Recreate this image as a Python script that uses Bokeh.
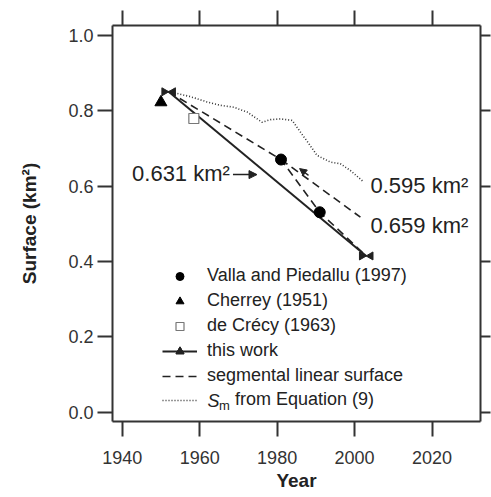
import math
from bokeh.plotting import figure
from bokeh.models import (ColumnDataSource, LinearAxis, FixedTicker, NumeralTickFormatter,
                          Legend, LegendItem, Label, Arrow, NormalHead, Range1d,
                          CustomLabelingPolicy)
from bokeh.transform import dodge
from bokeh.embed import file_html
from bokeh.resources import INLINE

# ---------------- data ----------------
valla_year = [1981, 1991]
valla_surf = [0.671, 0.531]
cherrey_year = [1950]
cherrey_surf = [0.823]
crecy_year = [1958.5]
crecy_surf = [0.780]
work_year = [1952, 2003]
work_surf = [0.851, 0.415]
seg_year = [1952, 1981, 1991, 2003]
seg_surf = [0.851, 0.671, 0.531, 0.415]
branch_year = [1981, 2001.5]
branch_surf = [0.671, 0.518]
sm_year = [1952, 1957.6, 1961.9, 1965.4, 1968.8, 1972.3, 1976.1, 1978.3, 1980.9,
           1983.9, 1986.0, 1988.2, 1990.3, 1993.8, 1996.3, 1998.9, 2002.4]
sm_surf = [0.852, 0.838, 0.824, 0.815, 0.810, 0.797, 0.770, 0.777, 0.779,
           0.775, 0.744, 0.713, 0.682, 0.664, 0.660, 0.642, 0.611]
x_ticks = [1940, 1960, 1980, 2000, 2020]
y_ticks = [0.0, 0.2, 0.4, 0.6, 0.8, 1.0]

FONT = "Liberation Sans"
INK = "#222222"
AX = "#333333"

p = figure(width=491, height=497, output_backend="svg", toolbar_location=None,
           x_range=Range1d(1937.5, 2032.5), y_range=Range1d(-0.0247, 1.027),
           min_border_left=112, min_border_right=11, min_border_top=25, min_border_bottom=76,
           background_fill_color="white", border_fill_color="white")
p.grid.visible = False
p.outline_line_color = None

NO_LABELS = CustomLabelingPolicy(code="""
try { const n = indices.size; for (let i = 0; i < n; i++) indices.unset(i) } catch (e) {}
return indices
""")

def style_axis(ax, tick_out, labels=True):
    ax.axis_line_color = AX
    ax.axis_line_width = 2
    ax.major_tick_line_color = AX
    ax.major_tick_line_width = 2
    ax.major_tick_in = 0
    ax.major_tick_out = tick_out
    ax.minor_tick_line_color = None
    ax.major_label_text_font = FONT
    ax.major_label_text_color = AX
    if labels:
        ax.major_label_text_font_size = "18px"
    else:
        ax.major_label_text_font_size = "0px"
        ax.major_label_standoff = 0
        ax.major_label_policy = NO_LABELS

xaxis = p.xaxis[0]
yaxis = p.yaxis[0]
xaxis.ticker = FixedTicker(ticks=x_ticks)
yaxis.ticker = FixedTicker(ticks=y_ticks)
yaxis.formatter = NumeralTickFormatter(format="0.0")
style_axis(xaxis, 15)
style_axis(yaxis, 15)
xaxis.major_label_standoff = 14
yaxis.major_label_standoff = 4
xaxis.axis_label = "Year"
yaxis.axis_label = "Surface (km²)"
for ax in (xaxis, yaxis):
    ax.axis_label_text_font = FONT
    ax.axis_label_text_font_style = "bold"
    ax.axis_label_text_font_size = "19px"
    ax.axis_label_text_color = INK
xaxis.axis_label_standoff = 3
yaxis.axis_label_standoff = 25

top = LinearAxis(ticker=FixedTicker(ticks=x_ticks))
style_axis(top, 15, labels=False)
p.add_layout(top, "above")
right = LinearAxis(ticker=FixedTicker(ticks=y_ticks))
style_axis(right, 10, labels=False)
p.add_layout(right, "right")

# ---------------- glyphs ----------------
r_sm = p.line(sm_year, sm_surf, line_color="#333333", line_width=1.6, line_dash="1 2")
r_seg = p.line(seg_year, seg_surf, line_color=INK, line_width=1.6, line_dash="8 5")
p.line(branch_year, branch_surf, line_color=INK, line_width=1.6, line_dash="8 5")
r_work = p.line(work_year, work_surf, line_color=INK, line_width=2)

# bow-tie end markers: two triangles pointing at each other
wsrc = ColumnDataSource(dict(x=work_year, y=work_surf))
r_bl = p.scatter(x=dodge("x", -1.15), y="y", source=wsrc, marker="triangle", size=8,
                 angle=-math.pi / 2, fill_color=INK, line_color=INK)
r_br = p.scatter(x=dodge("x", 1.15), y="y", source=wsrc, marker="triangle", size=8,
                 angle=math.pi / 2, fill_color=INK, line_color=INK)

r_valla = p.scatter(valla_year, valla_surf, marker="circle", size=11,
                    fill_color="black", line_color="black")
r_cherrey = p.scatter(cherrey_year, cherrey_surf, marker="triangle", size=12,
                      fill_color="black", line_color="black")
r_crecy = p.scatter(crecy_year, crecy_surf, marker="square", size=10,
                    fill_color="white", line_color="#777777", line_width=1.2)

# ---------------- annotations ----------------
def lab(x, y, text, size="22px", align="left", style="normal", baseline="middle"):
    p.add_layout(Label(x=x, y=y, text=text, text_font=FONT, text_font_size=size,
                       text_align=align, text_baseline=baseline, text_color=INK,
                       text_font_style=style))

lab(1967.8, 0.634, "0.631 km²", align="right")
lab(2004.1, 0.602, "0.595 km²")
lab(2004.1, 0.496, "0.659 km²")

p.add_layout(Arrow(end=NormalHead(size=8, fill_color=INK, line_color=INK),
                   x_start=1968.6, y_start=0.631, x_end=1974.8, y_end=0.631,
                   line_color=INK, line_width=1.5))
p.add_layout(Arrow(end=NormalHead(size=7, fill_color=INK, line_color=INK),
                   x_start=1988.1, y_start=0.629, x_end=1985.8, y_end=0.647,
                   line_color=INK, line_width=1.3))

common = dict(orientation="vertical", padding=0, margin=0, spacing=4,
              glyph_width=35, glyph_height=20, label_height=20,
              label_text_font=FONT, label_text_font_size="18px", label_text_color=INK,
              border_line_color=None, background_fill_alpha=0)
legend = Legend(items=[
    LegendItem(label="Valla and Piedallu (1997)", renderers=[r_valla]),
    LegendItem(label="Cherrey (1951)", renderers=[r_cherrey]),
    LegendItem(label="de Crécy (1963)", renderers=[r_crecy]),
    LegendItem(label="this work", renderers=[r_work, r_bl, r_br]),
    LegendItem(label="segmental linear surface", renderers=[r_seg]),
], location=(50, 35), label_standoff=10, **common)
p.add_layout(legend)
legend2 = Legend(items=[
    LegendItem(label="from Equation (9)", renderers=[r_sm]),
], location=(50, 11), label_standoff=38, **common)
p.add_layout(legend2)

lab(1962.0, 0.031, "S", size="18px", style="italic")
lab(1965.0, 0.018, "m", size="13px")

open("out.html", "w").write(file_html(p, INLINE))
